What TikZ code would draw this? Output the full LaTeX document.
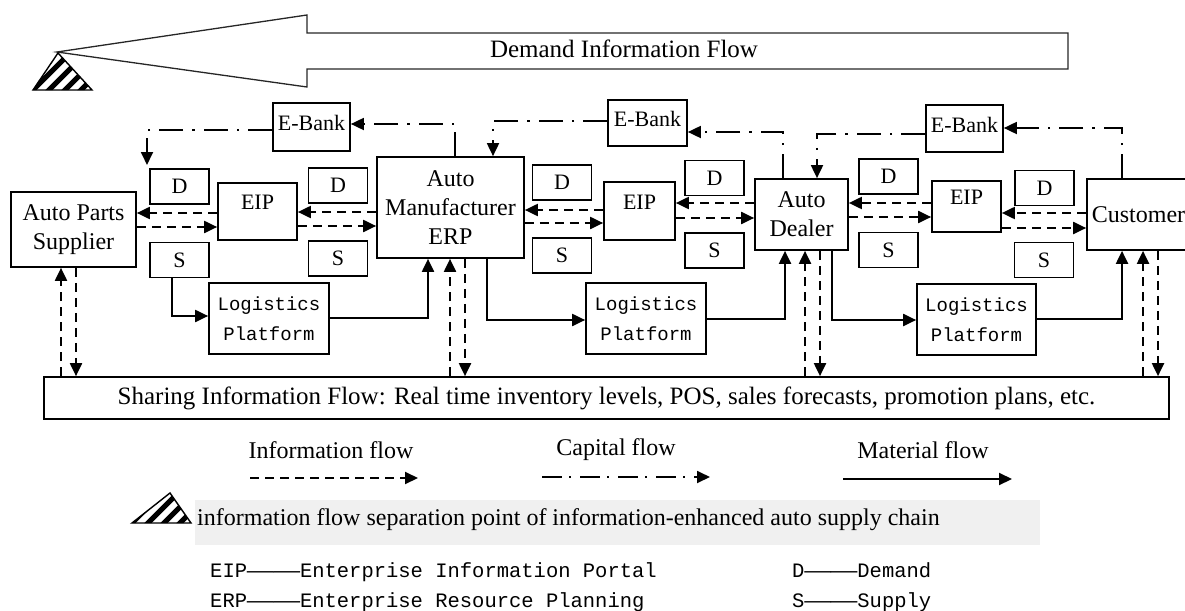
\documentclass[tikz,border=0pt]{standalone}
\usepackage{fontspec}
\usepackage{graphicx}
\setmainfont{Liberation Serif}
\newfontfamily\monofont{Liberation Mono}
\usetikzlibrary{arrows.meta}

% long double dash used in the abbreviation list
\newcommand\longdash{\scalebox{2.15}[1]{——}}

% striped triangle marking the separation point: apex, base left, base right
\newcommand\hatchedtri[3]{%
  \begin{scope}
    \clip (#1) -- (#2) -- (#3) -- cycle;
    \fill[white] (#1) -- (#2) -- (#3) -- cycle;
    \coordinate (hbase) at (#2);
    \foreach \k in {-64,-48,...,80}
      \draw[line width=5pt] ([xshift=\k pt]hbase) ++(-20,20) -- ++(80,-80);
  \end{scope}
  \draw[line width=1.4pt] (#1) -- (#2) -- (#3) -- cycle;
}

\begin{document}
\begin{tikzpicture}[x=1pt,y=-1pt,
  mainbox/.style={draw,line width=1.7pt,inner sep=0pt,align=center,
    font=\fontsize{24}{29}\selectfont},
  dsbox/.style={draw,line width=1.7pt,inner sep=0pt,minimum width=59pt,
    minimum height=35pt,font=\fontsize{22}{26}\selectfont},
  eipbox/.style={draw,line width=1.7pt,inner sep=0pt,
    font=\fontsize{22}{26}\selectfont,text height=14pt,text depth=18pt},
  bankbox/.style={draw,line width=1.7pt,inner sep=0pt,
    font=\fontsize{22}{26}\selectfont,text height=14pt,text depth=7pt},
  logbox/.style={draw,line width=1.7pt,inner sep=0pt,minimum width=120pt,
    minimum height=71pt,align=center,font=\monofont\fontsize{19}{30}\selectfont},
  tip/.style={-{Triangle[length=13pt,width=12pt]}},
  infoflow/.style={tip,line width=2pt,dash pattern=on 9pt off 6pt},
  capflow/.style={tip,line width=1.8pt,dash pattern=on 24pt off 9pt on 2.5pt off 9pt},
  matflow/.style={tip,line width=2pt},
  legtext/.style={font=\fontsize{24}{28}\selectfont},
  abbr/.style={anchor=base west,inner sep=0pt,font=\monofont\fontsize{20.5}{24}\selectfont},
]
\useasboundingbox (0,0) rectangle (1185,610);
\clip (0,0) rectangle (1185,610);

% ---- demand information flow arrow ----
\draw[line width=1.3pt,draw=black!85] (57,52) -- (307,15) -- (307,33) -- (1068,33)
  -- (1068,69) -- (307,69) -- (307,87) -- cycle;
\node[font=\fontsize{25}{28}\selectfont] (dif) at (624,49) {Demand Information Flow};
\hatchedtri{58,53}{33,90}{92,90}

% ---- main participants ----
\node[mainbox,minimum width=125pt,minimum height=75pt] (sup) at (73.5,229.5) {Auto Parts\\Supplier};
\node[mainbox,minimum width=147pt,minimum height=101pt] (mfr) at (450.5,207.5) {Auto\\Manufacturer\\ERP};
\node[mainbox,minimum width=93pt,minimum height=71pt] (dlr) at (801.5,214.5) {Auto\\Dealer};
\node[mainbox,minimum width=103pt,minimum height=71pt] (cst) at (1138.5,214.5) {Customer};

% ---- demand / supply tags ----
\node[dsbox] (d1) at (179.5,186.5) {D};
\node[dsbox] (s1) at (179.5,260) {S};
\node[dsbox] (d2) at (338,185.5) {D};
\node[dsbox] (s2) at (338,258.5) {S};
\node[dsbox] (d3) at (562,182.5) {D};
\node[dsbox] (s3) at (562,255.5) {S};
\node[dsbox] (d4) at (714.5,178) {D};
\node[dsbox] (s4) at (714.5,250.5) {S};
\node[dsbox] (d5) at (888.5,176.5) {D};
\node[dsbox] (s5) at (888.5,250) {S};
\node[dsbox] (d6) at (1044.5,188) {D};
\node[dsbox] (s6) at (1044,260) {S};

% ---- portals ----
\node[eipbox,minimum width=79pt,minimum height=57pt] (eip1) at (257.5,211.5) {EIP};
\node[eipbox,minimum width=71pt,minimum height=58pt] (eip2) at (639.5,211) {EIP};
\node[eipbox,minimum width=69pt,minimum height=51pt] (eip3) at (966.5,206.5) {EIP};

% ---- e-banks ----
\node[bankbox,minimum width=77pt,minimum height=48pt] (bk1) at (311.5,127) {E-Bank};
\node[bankbox,minimum width=79pt,minimum height=46pt] (bk2) at (647.5,123) {E-Bank};
\node[bankbox,minimum width=77pt,minimum height=47pt] (bk3) at (964.5,128.5) {E-Bank};

% ---- logistics platforms ----
\node[logbox] (lg1) at (269,318.5) {Logistics\\Platform};
\node[logbox] (lg2) at (646,318.5) {Logistics\\Platform};
\node[logbox,minimum width=119pt] (lg3) at (976.5,319.5) {Logistics\\Platform};

% ---- shared information bar ----
\node[mainbox,minimum width=1125pt,minimum height=42pt,font=\fontsize{25}{29}\selectfont] (shr) at (606.5,398)
  {Sharing Information Flow: Real time inventory levels, POS, sales forecasts, promotion plans, etc.};

% ---- capital flows ----
\coordinate (payin) at (147,165);
\draw[capflow] (mfr.north -| 455,0) |- (bk1.east |- 0,124);
\draw[capflow] (bk1.west |- 0,130) -| (payin);
\draw[capflow] (dlr.north -| 783,0) |- (bk2.east |- 0,132);
\draw[capflow] (bk2.west |- 0,121) -| (mfr.north -| 493,0);
\draw[capflow] (cst.north -| 1122,0) |- (bk3.east |- 0,128);
\draw[capflow] (bk3.west |- 0,134) -| (dlr.north -| 817,0);

% ---- information flows between neighbours ----
\draw[infoflow] (eip1.west |- 0,213) -- (sup.east |- 0,213);
\draw[infoflow] (sup.east |- 0,227) -- (eip1.west |- 0,227);
\draw[infoflow] (mfr.west |- 0,212) -- (eip1.east |- 0,212);
\draw[infoflow] (eip1.east |- 0,226) -- (mfr.west |- 0,226);
\draw[infoflow] (eip2.west |- 0,210) -- (mfr.east |- 0,210);
\draw[infoflow] (mfr.east |- 0,223) -- (eip2.west |- 0,223);
\draw[infoflow] (dlr.west |- 0,203) -- (eip2.east |- 0,203);
\draw[infoflow] (eip2.east |- 0,218) -- (dlr.west |- 0,218);
\draw[infoflow] (eip3.west |- 0,203) -- (dlr.east |- 0,203);
\draw[infoflow] (dlr.east |- 0,217) -- (eip3.west |- 0,217);
\draw[infoflow] (cst.west |- 0,213) -- (eip3.east |- 0,213);
\draw[infoflow] (eip3.east |- 0,228) -- (cst.west |- 0,228);

% ---- information flows to and from the shared bar ----
\draw[infoflow] (shr.north -| 61,0) -- (sup.south -| 61,0);
\draw[infoflow] (sup.south -| 76,0) -- (shr.north -| 76,0);
\draw[infoflow] (shr.north -| 450,0) -- (mfr.south -| 450,0);
\draw[infoflow] (mfr.south -| 465,0) -- (shr.north -| 465,0);
\draw[infoflow] (shr.north -| 805,0) -- (dlr.south -| 805,0);
\draw[infoflow] (dlr.south -| 820,0) -- (shr.north -| 820,0);
\draw[infoflow] (shr.north -| 1143,0) -- (cst.south -| 1143,0);
\draw[infoflow] (cst.south -| 1158,0) -- (shr.north -| 1158,0);

% ---- material flows ----
\draw[matflow] (s1.south -| 172,0) |- (lg1.west |- 0,316);
\draw[matflow] (lg1.east |- 0,318) -| (mfr.south -| 428,0);
\draw[matflow] (mfr.south -| 487,0) |- (lg2.west |- 0,320);
\draw[matflow] (lg2.east |- 0,319) -| (dlr.south -| 785,0);
\draw[matflow] (dlr.south -| 832,0) |- (lg3.west |- 0,320);
\draw[matflow] (lg3.east |- 0,319) -| (cst.south -| 1122,0);

% ---- legend ----
\node[legtext] (linfo) at (331,450) {Information flow};
\coordinate (li0) at (250,478); \coordinate (li1) at (418,478);
\draw[infoflow] (li0) -- (li1);
\node[legtext] (lcap) at (616,450) {Capital flow};
\coordinate (lc0) at (542,477); \coordinate (lc1) at (710,477);
\draw[capflow,dash pattern=on 20pt off 7pt on 2pt off 9pt] (lc0) -- (lc1);
\node[legtext] (lmat) at (923,450) {Material flow};
\coordinate (lm0) at (843,479); \coordinate (lm1) at (1012,479);
\draw[matflow] (lm0) -- (lm1);

\fill[black!6] (195,500) rectangle (1040,545);
\hatchedtri{170,493}{132,523}{191,523}
\node[legtext,anchor=base west,inner sep=0pt] (lsep) at (197,525)
  {information flow separation point of information-enhanced auto supply chain};

\node[abbr] (aeip) at (210,577) {EIP\longdash Enterprise Information Portal};
\node[abbr] (aerp) at (210,607) {ERP\longdash Enterprise Resource Planning};
\node[abbr] (ad) at (792,577) {D\longdash Demand};
\node[abbr] (as) at (792,607) {S\longdash Supply};
\end{tikzpicture}
\end{document}
